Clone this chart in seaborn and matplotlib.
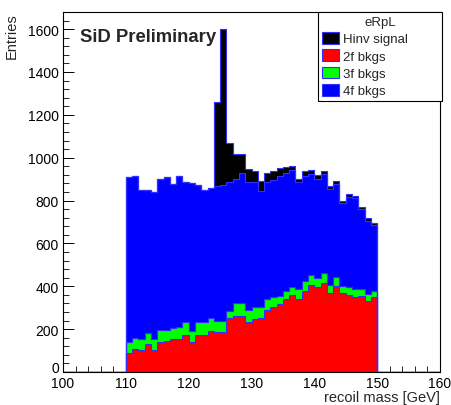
import numpy as np
import pandas as pd
import seaborn as sns
import matplotlib
matplotlib.use("Agg")
import matplotlib.pyplot as plt
from matplotlib.patches import Patch
from matplotlib.ticker import MultipleLocator
from matplotlib.transforms import ScaledTranslation

# ---- data (1 GeV bins from 110 to 150 GeV) ----
bin_centers = np.arange(110.5, 150.5, 1.0)

hinv_signal = [0, 0, 0, 0, 0, 0, 0, 0, 0, 0, 0, 0, 0, 0,
               396, 726, 186, 114, 86, 59, 51, 49, 42, 39, 34, 24, 20, 18, 20, 21,
               19, 16, 12, 15, 11, 14, 10, 11, 11, 9]
bkg_2f = [87, 107, 102, 132, 102, 140, 143, 152, 154, 174, 141, 175, 175, 190, 185, 185,
          250, 263, 263, 235, 247, 252, 289, 302, 317, 340, 360, 340, 379, 407, 395, 414,
          367, 403, 367, 360, 348, 356, 333, 348]
bkg_3f = [51, 50, 53, 48, 52, 57, 54, 54, 54, 61, 52, 58, 60, 60, 54, 54,
          33, 57, 57, 56, 55, 53, 51, 46, 39, 36, 38, 47, 44, 47, 43, 46,
          40, 42, 36, 35, 39, 31, 31, 31]
bkg_4f = [770, 759, 695, 670, 684, 703, 711, 671, 705, 654, 688, 641, 614, 611, 627, 635,
          602, 583, 611, 597, 583, 538, 549, 549, 560, 555, 544, 498, 493, 469, 462, 463,
          447, 432, 385, 424, 425, 373, 342, 307]

processes = ["Hinv signal", "2f bkgs", "3f bkgs", "4f bkgs"]
colors = {"Hinv signal": "#000000", "2f bkgs": "#ff0000",
          "3f bkgs": "#00ff00", "4f bkgs": "#0000ff"}
x_ticks = [100, 110, 120, 130, 140, 150, 160]
y_ticks = [0, 200, 400, 600, 800, 1000, 1200, 1400, 1600]

df = pd.concat([
    pd.DataFrame({"mass": bin_centers, "w": vals, "process": name})
    for name, vals in zip(processes, [hinv_signal, bkg_2f, bkg_3f, bkg_4f])
], ignore_index=True)

# ---- figure ----
sns.set_style("ticks")
plt.rcParams["font.family"] = ["Liberation Sans", "DejaVu Sans"]

fig = plt.figure(figsize=(4.52, 4.06), dpi=100)
L, R, T, B = 63, 440, 13, 373
ax = fig.add_axes([L / 452, 1 - B / 406, (R - L) / 452, (B - T) / 406])

edge = "#3030ff"
sns.histplot(data=df, x="mass", weights="w", hue="process",
             hue_order=["Hinv signal", "4f bkgs", "3f bkgs", "2f bkgs"],
             multiple="stack", binwidth=1, binrange=(100, 160), element="step",
             palette=colors, alpha=1, edgecolor=edge, linewidth=0.8,
             legend=False, ax=ax)

ax.set_xlim(100, 160)
ax.set_ylim(0, 1680)
ax.set_xticks(x_ticks)
ax.set_yticks(y_ticks)
ax.xaxis.set_minor_locator(MultipleLocator(2))
ax.yaxis.set_minor_locator(MultipleLocator(40))
ax.tick_params(axis="both", which="major", direction="in", length=8, width=0.7,
               labelsize=10, pad=3, colors="black")
ax.tick_params(axis="both", which="minor", direction="in", length=4, width=0.7)
ax.tick_params(top=False, right=False)
for s in ax.spines.values():
    s.set_visible(True)
    s.set_color("black")
    s.set_linewidth(0.8)

# raise the "0" label slightly, as in the reference
zero_lbl = ax.get_yticklabels()[0]
zero_lbl.set_transform(zero_lbl.get_transform()
                       + ScaledTranslation(0, 5 / 100, fig.dpi_scale_trans))

ax.set_xlabel("recoil mass [GeV]", fontsize=10.5, loc="right")
ax.xaxis.set_label_coords(1.0, -0.05)
ax.xaxis.label.set_va("top")
ax.set_ylabel("Entries", fontsize=10.5, loc="top")
ax.yaxis.set_label_coords(-0.118, 1.0)

fig.text(80 / 452, 1 - 42 / 406, "SiD Preliminary", fontsize=13.3,
         fontweight="bold", va="baseline", ha="left")

handles = [Patch(facecolor=colors[p], edgecolor=edge, linewidth=0.8, label=p)
           for p in processes]
leg = ax.legend(handles=handles, title="eRpL", loc="upper left",
                bbox_to_anchor=(318 / 452, 1 - 13 / 406 - 0.25, 124 / 452, 0.25),
                bbox_transform=fig.transFigure, mode="expand", borderaxespad=0,
                fontsize=9.5, title_fontsize=9.5, handlelength=1.3, handleheight=1.0,
                handletextpad=0.3, labelspacing=0.3, borderpad=0.3,
                fancybox=False, framealpha=1, edgecolor="black")
leg.get_frame().set_linewidth(0.8)

fig.savefig("out.png", dpi=100)
